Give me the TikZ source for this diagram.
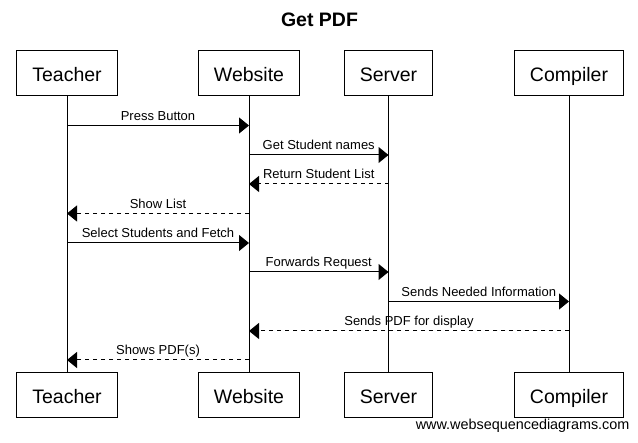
\documentclass[tikz,border=0pt]{standalone}
\usepackage{fontspec}
\setmainfont{Liberation Sans}
\usetikzlibrary{arrows.meta, positioning}

\begin{document}
\begin{tikzpicture}[
  x=1pt, y=-1pt,
  actor/.style={draw, rectangle, line width=1pt, minimum height=45pt, inner xsep=15.5pt, text height=17pt, text depth=0pt, font=\fontsize{19.5}{22}\selectfont},
  life/.style={line width=1pt},
  msg/.style={-{Triangle[length=10pt, width=16pt]}, line width=1pt},
  reply/.style={msg, dash pattern=on 4pt off 4pt},
  lbl/.style={anchor=base, yshift=5pt, font=\fontsize{13}{15}\selectfont}
]
\useasboundingbox (0,0) rectangle (638,443);
\node[anchor=base, font=\bfseries\fontsize{19.5}{22}\selectfont] (title) at (319.5,27) {Get PDF};

\node[actor] (teacher) at (67,73.5) {Teacher};
\node[actor] (website) at (249,73.5) {Website};
\node[actor] (server) at (388.5,73.5) {Server};
\node[actor] (compiler) at (569,73.5) {Compiler};

\node[actor] (teacherB) at (67,395.5) {Teacher};
\node[actor] (websiteB) at (249,395.5) {Website};
\node[actor] (serverB) at (388.5,395.5) {Server};
\node[actor] (compilerB) at (569,395.5) {Compiler};

\draw[life] (teacher) -- (teacherB);
\draw[life] (website) -- (websiteB);
\draw[life] (server) -- (serverB);
\draw[life] (compiler) -- (compilerB);

\coordinate (m1) at (0,125.5);
\coordinate (m2) at (0,155);
\coordinate (m3) at (0,184);
\coordinate (m4) at (0,213.5);
\coordinate (m5) at (0,243);
\coordinate (m6) at (0,272);
\coordinate (m7) at (0,301.5);
\coordinate (m8) at (0,331);
\coordinate (m9) at (0,360);

\draw[msg] (teacher |- m1) -- node[lbl] {Press Button} (website |- m1);
\draw[msg] (website |- m2) -- node[lbl] {Get Student names} (server |- m2);
\draw[reply] (server |- m3) -- node[lbl] {Return Student List} (website |- m3);
\draw[reply] (website |- m4) -- node[lbl] {Show List} (teacher |- m4);
\draw[msg] (teacher |- m5) -- node[lbl] {Select Students and Fetch} (website |- m5);
\draw[msg] (website |- m6) -- node[lbl] {Forwards Request} (server |- m6);
\draw[msg] (server |- m7) -- node[lbl] {Sends Needed Information} (compiler |- m7);
\draw[reply] (compiler |- m8) -- node[lbl] {Sends PDF for display} (website |- m8);
\draw[reply] (website |- m9) -- node[lbl] {Shows PDF(s)} (teacher |- m9);

\node[anchor=base east, font=\fontsize{14.4}{16}\selectfont] (credit) at (633,430) {www.websequencediagrams.com};
\end{tikzpicture}
\end{document}
